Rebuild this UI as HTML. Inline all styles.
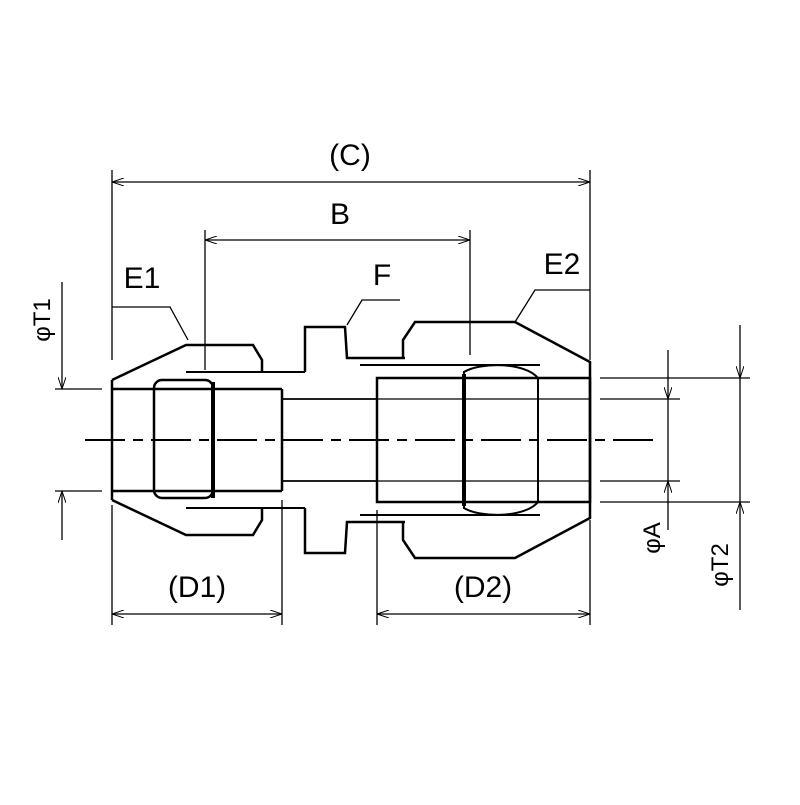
<!DOCTYPE html><html><head><style>body{margin:0;background:#fff}</style></head><body>
<svg width="800" height="800" viewBox="0 0 800 800" xmlns="http://www.w3.org/2000/svg">
<defs><marker id="a" viewBox="0 0 12 8" refX="12" refY="4" markerWidth="12" markerHeight="8" orient="auto-start-reverse" markerUnits="userSpaceOnUse"><path d="M0,0L12,4L0,8" fill="none" stroke="#000" stroke-width="1"/></marker></defs>
<g stroke="#000" fill="none" stroke-width="2.5">
<!-- left nut -->
<path d="M112,380L112,500 M112,380L186,345L253,345L262,360L262,372 M112,500L186,535L253,535L262,520L262,508"/>
<path d="M112,389H282 M112,491H282 M282,389V491"/>
<path d="M186,372H305 M186,508H305" stroke-width="2"/>
<rect x="154" y="380" width="59" height="118" rx="8" stroke-width="2.5"/>
<path d="M213,382V498" stroke-width="4"/>
<!-- body -->
<path d="M282,399H377 M282,481H377" stroke-width="1.8"/>
<path d="M305,372V327L345,327L347,358L405,358 M305,508V553L345,553L347,522L405,522"/>
<!-- right nut -->
<path d="M403,358V340L415,322L515,322L590,362L590,518L515,558L415,558L403,540V522"/>
<path d="M360,365H540 M360,515H540" stroke-width="2"/>
<rect x="377" y="378" width="213" height="124"/>
<path d="M377,399H590 M377,481H590" stroke-width="1.3"/>
<path d="M464,372C480,362 525,362 538,378V502C525,518 480,518 464,508Z" stroke-width="2"/>
<path d="M464,374V506" stroke-width="4"/>
</g>
<g stroke="#000" fill="none" stroke-width="1.3">
<path d="M85,440H660" stroke-width="2" stroke-dasharray="40,8,10,8"/>
<!-- extension lines -->
<path d="M112,170V360 M590,170V360 M205,230V370 M470,230V355 M112,505V625 M282,500V625 M377,510V625 M590,520V625"/>
<path d="M112,182H590" marker-start="url(#a)" marker-end="url(#a)"/>
<path d="M205,240H470" marker-start="url(#a)" marker-end="url(#a)"/>
<path d="M112,614H282" marker-start="url(#a)" marker-end="url(#a)"/>
<path d="M377,614H590" marker-start="url(#a)" marker-end="url(#a)"/>
<!-- T1 -->
<path d="M55,389H102 M55,491H102"/>
<path d="M62,282V389" marker-end="url(#a)"/><path d="M62,540V491" marker-end="url(#a)"/>
<!-- A / T2 -->
<path d="M600,378H750 M600,502H750 M600,399H680 M600,481H680"/>
<path d="M668,350V399" marker-end="url(#a)"/><path d="M668,530V481" marker-end="url(#a)"/>
<path d="M740,325V378" marker-end="url(#a)"/><path d="M740,610V502" marker-end="url(#a)"/>
<path d="M668,399V481"/><path d="M740,378V502"/>
<!-- leaders -->
<path d="M112,307H170L188,340"/><path d="M590,290H535L515,322"/><path d="M400,300H362L347,325"/>
</g>
<g font-family="Liberation Sans, sans-serif" font-size="30" fill="#000" text-anchor="middle">
<text x="350" y="165">(C)</text>
<text x="340" y="224">B</text>
<text x="142" y="288">E1</text>
<text x="562" y="274">E2</text>
<text x="382" y="285">F</text>
<text x="197" y="597">(D1)</text>
<text x="483" y="597">(D2)</text>
<text transform="translate(50,320) rotate(-90)" font-size="24">φT1</text>
<text transform="translate(660,538) rotate(-90)" font-size="24">φA</text>
<text transform="translate(728,565) rotate(-90)" font-size="24">φT2</text>
</g>
</svg></body></html>
